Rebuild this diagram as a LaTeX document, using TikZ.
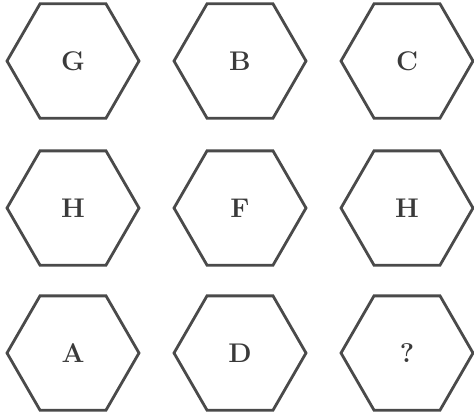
\documentclass[tikz,border=0pt]{standalone}
\usepackage{tikz}
\usetikzlibrary{shapes.geometric}
\definecolor{hexgray}{HTML}{4A4A4A}
\definecolor{lettergray}{HTML}{3A3A3A}
\begin{document}
\begin{tikzpicture}[x=0.5pt, y=-0.5pt,
  hexcell/.style={regular polygon, regular polygon sides=6, draw=hexgray, line width=1.4pt,
                  minimum size=66pt, inner sep=0pt, text=lettergray,
                  font=\fontsize{13.5}{16}\selectfont\bfseries}
]
\useasboundingbox (0,0) rectangle (474,414);
\node[hexcell] (g) at (73,61) {G};
\node[hexcell] (b) at (240,61) {B};
\node[hexcell] (c) at (407,61) {C};
\node[hexcell] (h1) at (73,208) {H};
\node[hexcell] (f) at (240,208) {F};
\node[hexcell] (h2) at (407,208) {H};
\node[hexcell] (a) at (73,353) {A};
\node[hexcell] (d) at (240,353) {D};
\node[hexcell] (q) at (407,353) {?};
\end{tikzpicture}
\end{document}
